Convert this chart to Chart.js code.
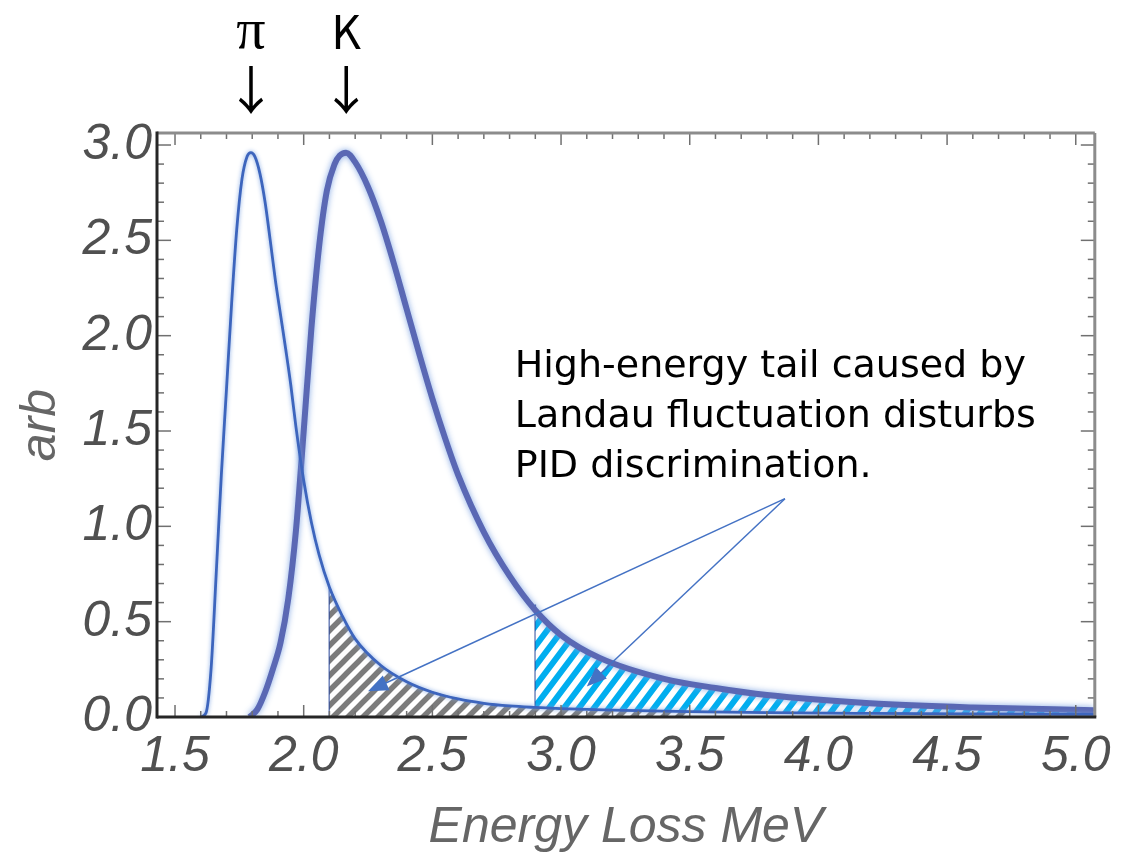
<!DOCTYPE html>
<html lang="en">
<head>
<meta charset="UTF-8">
<title>Energy Loss</title>
<script src="https://cdn.jsdelivr.net/npm/chart.js"></script>
<style>
  body { margin: 0; background: #fff; }
  canvas { display: block; }
</style>
</head>
<body>
<canvas id="lossChart" width="1121" height="856"></canvas>
<script>
// pion energy-loss distribution (MeV, arb)
const piEnergy = [1.60, 1.62, 1.64, 1.66, 1.68, 1.70, 1.72, 1.74, 1.76, 1.78,
                  1.795, 1.81, 1.83, 1.85, 1.87, 1.89, 1.91, 1.93, 1.95, 1.97,
                  2.00, 2.03, 2.06, 2.10, 2.15, 2.20, 2.30, 2.40, 2.50, 2.60,
                  2.70, 2.80, 2.90, 3.00, 3.20, 3.50, 3.80, 4.20, 4.60, 5.07];
const piYield = [0, 0.02, 0.25, 0.75, 1.27, 1.72, 2.17, 2.56, 2.82, 2.94,
                 2.96, 2.94, 2.85, 2.70, 2.50, 2.29, 2.11, 1.93, 1.74, 1.52,
                 1.24, 1.02, 0.85, 0.68, 0.53, 0.41, 0.27, 0.185, 0.13, 0.095,
                 0.072, 0.058, 0.05, 0.044, 0.036, 0.028, 0.023, 0.019, 0.016, 0.014];

// kaon energy-loss distribution
const kEnergy = [1.79, 1.82, 1.85, 1.88, 1.91, 1.94, 1.97, 2.00, 2.03, 2.06,
                 2.09, 2.12, 2.14, 2.165, 2.20, 2.25, 2.30, 2.35, 2.40, 2.45,
                 2.50, 2.55, 2.60, 2.70, 2.80, 2.90, 3.00, 3.15, 3.40, 3.60,
                 3.80, 4.20, 4.60, 5.07];
const kYield = [0, 0.04, 0.13, 0.25, 0.39, 0.62, 0.98, 1.50, 2.04, 2.47,
                2.76, 2.90, 2.945, 2.96, 2.91, 2.78, 2.60, 2.38, 2.14, 1.90,
                1.67, 1.46, 1.27, 0.97, 0.74, 0.56, 0.43, 0.31, 0.20, 0.152,
                0.115, 0.072, 0.05, 0.036];

const xTicks = [1.5, 2.0, 2.5, 3.0, 3.5, 4.0, 4.5, 5.0];
const yTicks = [0, 0.5, 1.0, 1.5, 2.0, 2.5, 3.0];

// shaded tails
const piTailRange = [2.1, 3.5];
const kTailRange = [2.9, 5.07];

const noteLines = ['High-energy tail caused by', 'Landau fluctuation disturbs', 'PID discrimination.'];

function pts(xs, ys, lo = -Infinity, hi = Infinity) {
  const out = [];
  xs.forEach((x, i) => { if (x >= lo && x <= hi) out.push({ x: x, y: ys[i] }); });
  return out;
}
function valueAt(xs, ys, x) {
  return ys[xs.indexOf(x)];
}

// diagonal "/" stripes; w x h tile sets the slope and spacing
function hatch(color, w, h, lw) {
  const c = document.createElement('canvas');
  c.width = w; c.height = h;
  const g = c.getContext('2d');
  g.fillStyle = '#fff';
  g.fillRect(0, 0, w, h);
  g.strokeStyle = color;
  g.lineWidth = lw;
  g.beginPath();
  for (let k = -1; k <= 3; k++) {
    g.moveTo(-w, h * (k + 1));
    g.lineTo(2 * w, h * (k - 2));
  }
  g.stroke();
  return g.createPattern(c, 'repeat');
}

const edgeBlue = '#2f4c9c';
const grayHatch = hatch('#7c7c7c', 15, 15, 5.5);
const cyanHatch = hatch('#00aeef', 15, 20, 6);

// soft halo under the two curves
const glow = {
  id: 'glow',
  beforeDatasetDraw(chart, args) {
    const ds = chart.data.datasets[args.index];
    if (!ds.glow) return;
    chart.ctx.save();
    chart.ctx.shadowColor = ds.glow;
    chart.ctx.shadowBlur = ds.glowBlur;
  },
  afterDatasetDraw(chart, args) {
    if (chart.data.datasets[args.index].glow) chart.ctx.restore();
  }
};

// frame with inward ticks
const frame = {
  id: 'frame',
  afterDraw(chart) {
    const { ctx, chartArea: a, scales: { x, y } } = chart;
    const seg = (x0, y0, x1, y1) => { ctx.beginPath(); ctx.moveTo(x0, y0); ctx.lineTo(x1, y1); ctx.stroke(); };
    ctx.save();
    ctx.strokeStyle = '#707070';
    ctx.lineWidth = 1.5;
    for (let i = 15; i <= 50; i++) {
      const px = x.getPixelForValue(i / 10);
      const len = i % 5 === 0 ? 12 : 6;
      seg(px, a.bottom, px, a.bottom - len);
      seg(px, a.top, px, a.top + len);
    }
    for (let i = 0; i <= 30; i++) {
      const py = y.getPixelForValue(i / 10);
      const len = i % 5 === 0 ? 14 : 7;
      seg(a.left, py, a.left + len, py);
      seg(a.right, py, a.right - len, py);
    }
    ctx.lineWidth = 3;
    ctx.strokeStyle = '#8c8c8c';
    seg(a.left, a.top, a.right, a.top);
    seg(a.right, a.top, a.right, a.bottom);
    ctx.strokeStyle = '#262626';
    seg(a.left, a.top - 1.5, a.left, a.bottom + 1.5);
    seg(a.left, a.bottom, a.right + 1.5, a.bottom);
    ctx.restore();
  }
};

function arrow(ctx, x0, y0, x1, y1) {
  const ang = Math.atan2(y1 - y0, x1 - x0);
  const len = 20, half = 8;
  ctx.beginPath();
  ctx.moveTo(x0, y0);
  ctx.lineTo(x1 - Math.cos(ang) * len * 0.8, y1 - Math.sin(ang) * len * 0.8);
  ctx.stroke();
  ctx.beginPath();
  ctx.moveTo(x1, y1);
  ctx.lineTo(x1 - Math.cos(ang) * len - Math.sin(ang) * half, y1 - Math.sin(ang) * len + Math.cos(ang) * half);
  ctx.lineTo(x1 - Math.cos(ang) * len + Math.sin(ang) * half, y1 - Math.sin(ang) * len - Math.cos(ang) * half);
  ctx.closePath();
  ctx.fill();
}

// particle labels, explanation text and pointer arrows
const notes = {
  id: 'notes',
  afterDraw(chart) {
    const { ctx, scales: { x, y } } = chart;
    ctx.save();
    ctx.fillStyle = '#000';
    ctx.textAlign = 'center';
    ctx.textBaseline = 'middle';

    const piPeak = piEnergy[piYield.indexOf(Math.max(...piYield))];
    const kPeak = kEnergy[kYield.indexOf(Math.max(...kYield))];
    const pxPi = x.getPixelForValue(piPeak);
    const pxK = x.getPixelForValue(kPeak);
    ctx.font = '58px "Liberation Serif"';
    ctx.fillText('π', pxPi, 33);
    ctx.font = '46px "Noto Sans CJK JP"';
    ctx.fillText('K', pxK, 32);
    ctx.font = '52px "Noto Sans CJK JP"';
    ctx.fillText('↓', pxPi, 90);
    ctx.fillText('↓', pxK, 90);

    // explanation block
    ctx.textAlign = 'left';
    ctx.textBaseline = 'alphabetic';
    ctx.font = '38px "DejaVu Sans"';
    const tx = x.getPixelForValue(2.82);
    noteLines.forEach((s, i) => ctx.fillText(s, tx, 377 + i * 50));

    ctx.strokeStyle = '#4472c4';
    ctx.fillStyle = '#4472c4';
    ctx.lineWidth = 1.5;
    const fx = x.getPixelForValue(3.87), fy = y.getPixelForValue(1.145);
    arrow(ctx, fx, fy, x.getPixelForValue(2.25), y.getPixelForValue(0.135));
    arrow(ctx, fx, fy, x.getPixelForValue(3.10), y.getPixelForValue(0.16));
    ctx.restore();
  }
};

const piCut = piTailRange[0];
const kCut = kTailRange[0];

const datasets = [
  {
    data: pts(piEnergy, piYield),
    borderColor: '#3d65bd', borderWidth: 2.8,
    glow: 'rgba(120,160,225,0.9)', glowBlur: 4
  },
  {
    data: pts(kEnergy, kYield),
    borderColor: '#5a68b4', borderWidth: 6,
    glow: 'rgba(120,160,225,0.9)', glowBlur: 6
  },
  {
    // lower edge of the kaon tail band
    data: pts(piEnergy, piYield, kTailRange[0], kTailRange[1]),
    borderColor: edgeBlue, borderWidth: 1.3
  },
  {
    data: pts(kEnergy, kYield, kTailRange[0], kTailRange[1]),
    borderColor: edgeBlue, borderWidth: 1,
    fill: { target: 2 }, backgroundColor: cyanHatch
  },
  {
    data: pts(piEnergy, piYield, piTailRange[0], piTailRange[1]),
    borderColor: edgeBlue, borderWidth: 1.3,
    fill: 'origin', backgroundColor: grayHatch
  },
  {
    data: [{ x: piCut, y: 0 }, { x: piCut, y: valueAt(piEnergy, piYield, piCut) }],
    borderColor: edgeBlue, borderWidth: 1.6, cubicInterpolationMode: 'default', tension: 0
  },
  {
    data: [{ x: kCut, y: valueAt(piEnergy, piYield, kCut) }, { x: kCut, y: valueAt(kEnergy, kYield, kCut) + 0.03 }],
    borderColor: edgeBlue, borderWidth: 1.6, cubicInterpolationMode: 'default', tension: 0
  },
  {
    data: [{ x: piCut, y: 0.004 }, { x: piTailRange[1], y: 0.004 }],
    borderColor: edgeBlue, borderWidth: 1.6, cubicInterpolationMode: 'default', tension: 0
  }
];

datasets.forEach(d => {
  d.pointRadius = 0;
  if (d.fill === undefined) d.fill = false;
  if (d.cubicInterpolationMode === undefined) d.cubicInterpolationMode = 'monotone';
});

const tickFont = { family: '"Liberation Sans", Arial, sans-serif', size: 50, style: 'italic' };
const tickColor = '#505050';

new Chart(document.getElementById('lossChart'), {
  type: 'line',
  data: { datasets: datasets },
  options: {
    responsive: false,
    animation: false,
    layout: { padding: { top: 133, right: 24, left: 0, bottom: 0 } },
    plugins: { legend: { display: false }, tooltip: { enabled: false } },
    scales: {
      x: {
        type: 'linear',
        min: 1.43, max: 5.074,
        grid: { display: false, drawTicks: false },
        border: { display: false },
        afterBuildTicks(s) { s.ticks = xTicks.map(v => ({ value: v })); },
        afterFit(s) { s.height = 139; },
        ticks: { color: tickColor, font: tickFont, padding: 10, maxRotation: 0, autoSkip: false,
                 callback: v => v.toFixed(1) },
        title: { display: true, text: 'Energy Loss MeV', color: '#666',
                 font: { family: '"Liberation Sans", Arial, sans-serif', size: 50, style: 'italic', lineHeight: 1.1 },
                 padding: { top: 0, bottom: 0 } }
      },
      y: {
        min: 0, max: 3.063,
        grid: { display: false, drawTicks: false },
        border: { display: false },
        afterBuildTicks(s) { s.ticks = yTicks.map(v => ({ value: v })); },
        afterFit(s) { s.width = 157; },
        ticks: { color: tickColor, font: tickFont, padding: 5, callback: v => v.toFixed(1) },
        title: { display: true, text: 'arb', color: '#666',
                 font: { family: '"Liberation Sans", Arial, sans-serif', size: 50, style: 'italic', lineHeight: 1.1 },
                 padding: { top: 14, bottom: 0 } }
      }
    }
  },
  plugins: [glow, frame, notes]
});
</script>
</body>
</html>
